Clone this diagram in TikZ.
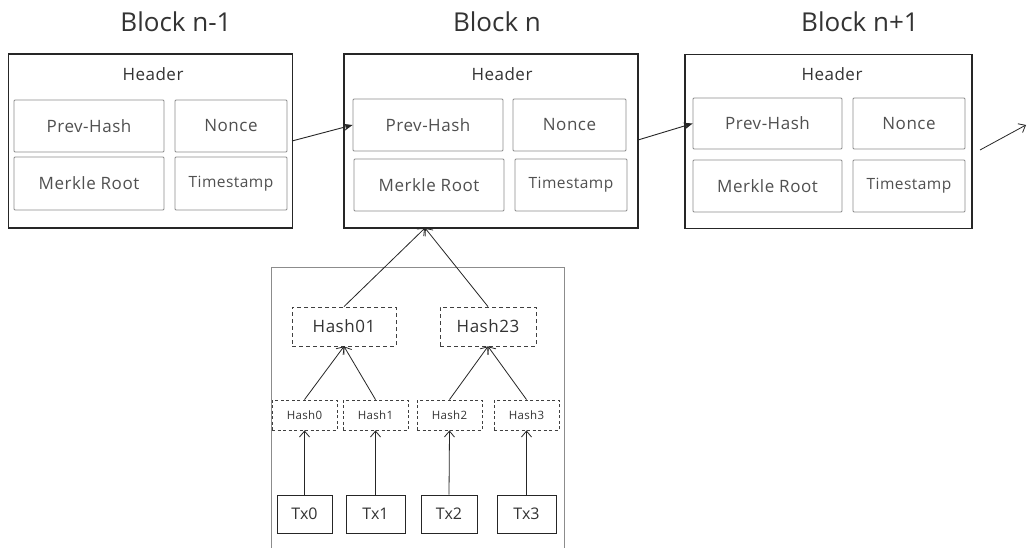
\documentclass[tikz,border=0pt]{standalone}
\usepackage{fontspec}
\setmainfont{Open Sans}
\newfontfamily\widefont[LetterSpace=3]{Open Sans}
\usetikzlibrary{arrows.meta}
\definecolor{txt}{HTML}{505050}
\definecolor{dark}{HTML}{333333}
\definecolor{thin}{HTML}{8C8C8C}
\tikzset{
  block/.style={draw=black!85, line width=1.6pt, minimum width=284pt, minimum height=174pt, inner sep=0pt},
  field/.style={draw=thin, line width=0.8pt, rounded corners=1pt, text=txt, font=\widefont\fontsize{17}{19}\selectfont, inner sep=0pt},
  stamp/.style={font=\widefont\fontsize{15.5}{18}\selectfont},
  title/.style={font=\fontsize{26}{30}\selectfont, text=dark},
  hdr/.style={font=\widefont\fontsize{17}{19}\selectfont, text=dark},
  hashbig/.style={draw=black!75, dashed, dash pattern=on 4pt off 3pt, line width=0.8pt, minimum width=104pt, minimum height=39pt, inner sep=0pt, font=\widefont\fontsize{17}{19}\selectfont, text=dark},
  hashsmall/.style={draw=black!75, dashed, dash pattern=on 3pt off 2.5pt, line width=0.8pt, minimum width=65pt, minimum height=30pt, inner sep=0pt, font=\widefont\fontsize{11.5}{13}\selectfont, text=dark},
  txbox/.style={draw=black!85, line width=0.9pt, minimum width=56pt, minimum height=38pt, inner sep=0pt, font=\fontsize{16}{18}\selectfont, text=dark},
  link/.style={draw=black!85, line width=0.9pt, -{Stealth[length=9pt,width=7pt]}},
  tree/.style={draw=black!85, line width=0.8pt, -{Straight Barb[length=6pt,width=10pt]}},
}
\begin{document}
\begin{tikzpicture}[x=1pt,y=-1pt]
\useasboundingbox[fill=white] (0,0) rectangle (1028,548);

% block titles
\node[title] (t1) at (176,22) {Block n-1};
\node[title] (t2) at (497,22) {Block n};
\node[title] (t3) at (860,22) {Block n+1};

% block n-1
\node[block] (b1) at (150.5,141) {};
\node[hdr] (h1) at (153,74) {Header};
\node[field, minimum width=150pt, minimum height=52pt] (p1) at (89,126) {Prev-Hash};
\node[field, minimum width=112pt, minimum height=52pt] (n1) at (231,126) {Nonce};
\node[field, minimum width=150pt, minimum height=53pt] (m1) at (89,183.5) {Merkle Root};
\node[field, stamp, minimum width=112pt, minimum height=53pt] (s1) at (231,183.5) {Timestamp};

% block n
\node[block, minimum width=294pt] (b2) at (491,141) {};
\node[hdr] (h2) at (502,74) {Header};
\node[field, minimum width=150pt, minimum height=52pt] (p2) at (428,125) {Prev-Hash};
\node[field, minimum width=113pt, minimum height=52pt] (n2) at (569.5,125) {Nonce};
\node[field, minimum width=150pt, minimum height=52pt] (m2) at (429,185) {Merkle Root};
\node[field, stamp, minimum width=112pt, minimum height=52pt] (s2) at (571,185) {Timestamp};

% block n+1
\node[block, minimum width=287pt] (b3) at (828.5,141.5) {};
\node[hdr] (h3) at (832,74) {Header};
\node[field, minimum width=149pt, minimum height=51pt] (p3) at (767.5,123.5) {Prev-Hash};
\node[field, minimum width=112pt, minimum height=51pt] (n3) at (909,123.5) {Nonce};
\node[field, minimum width=149pt, minimum height=52pt] (m3) at (767.5,186) {Merkle Root};
\node[field, stamp, minimum width=112pt, minimum height=52pt] (s3) at (909,186) {Timestamp};

% chain links
\coordinate (l1) at (292,141);
\coordinate (l2) at (638,140);
\coordinate (l3a) at (980,150);
\coordinate (l3b) at (1026,125);
\draw[link] (l1) -- (p2.west);
\draw[link] (l2) -- (p3.west);
\draw[tree] (l3a) -- (l3b);

% merkle tree frame, open at the bottom
\draw[draw=thin, line width=0.8pt] (271,548) -- (271,267) -- (564,267) -- (564,548);

\node[hashbig] (h01) at (344,326.5) {Hash01};
\node[hashbig, minimum width=96pt] (h23) at (488,326.5) {Hash23};

\node[hashsmall] (x0) at (304.5,415) {Hash0};
\node[hashsmall] (x1) at (375.5,415) {Hash1};
\node[hashsmall] (x2) at (449.5,415) {Hash2};
\node[hashsmall] (x3) at (526.5,415) {Hash3};

\node[txbox, minimum width=55pt] (tx0) at (304.5,514) {Tx0};
\node[txbox, minimum width=59pt] (tx1) at (375.5,514) {Tx1};
\node[txbox, minimum width=56pt] (tx2) at (449,514) {Tx2};
\node[txbox, minimum width=59pt] (tx3) at (526.5,514) {Tx3};

\draw[tree] (tx0.north) -- (x0.south);
\draw[tree] (tx1.north) -- (x1.south);
\draw[tree] (tx2.north) -- (x2.south);
\draw[tree] (tx3.north) -- (x3.south);

\draw[tree] (x0.north) -- (h01.south);
\draw[tree] (x1.north) -- (h01.south);
\draw[tree] (x2.north) -- (h23.south);
\draw[tree] (x3.north) -- (h23.south);

\coordinate (root) at (425,228);
\draw[tree] (h01.north) -- (root);
\draw[tree] (h23.north) -- (root);
\end{tikzpicture}
\end{document}
